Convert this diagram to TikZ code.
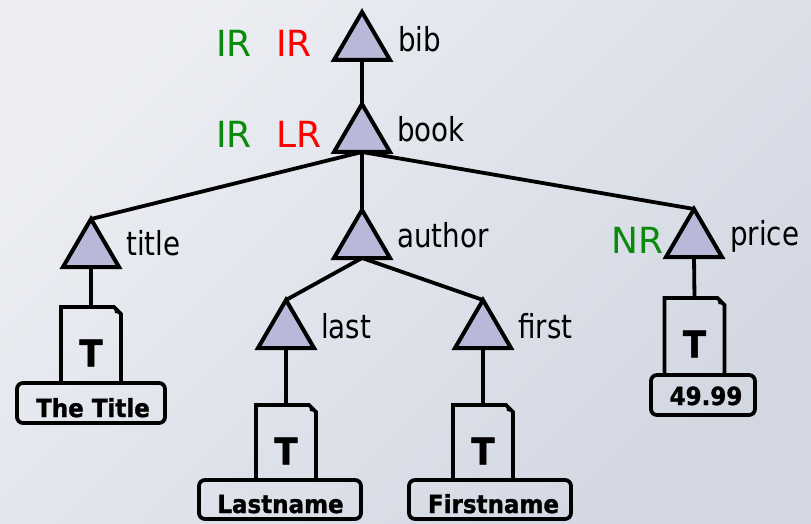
\documentclass[tikz,border=0pt]{standalone}
\usepackage{fontspec}
\setmainfont[FakeStretch=0.84]{DejaVu Sans}
\newfontfamily\boldface[FakeStretch=0.92,BoldFeatures={FakeBold=1.2}]{DejaVu Sans}
\newfontfamily\plainface{DejaVu Sans}
\definecolor{bgA}{HTML}{ECEEF3}
\definecolor{bgB}{HTML}{D2D7E2}
\definecolor{trifill}{HTML}{B8B8D9}
\definecolor{okgreen}{HTML}{0A8A0A}
\definecolor{badred}{HTML}{FF0000}
\begin{document}
\begin{tikzpicture}[x=1pt,y=-1pt,line join=miter,
  trishape/.style={draw=black,fill=trifill,line width=4pt},
  link/.style={draw=black,line width=3.8pt},
  docline/.style={draw=black,line width=3.8pt},
  valbox/.style={draw=black,line width=3.8pt,rounded corners=6pt,inner sep=0pt},
  lbl/.style={anchor=base west,inner sep=0pt,font=\fontsize{33}{36}\selectfont},
  rlbl/.style={anchor=base west,inner sep=0pt,font=\plainface\fontsize{36}{40}\selectfont},
  tletter/.style={anchor=base,inner sep=0pt,font=\boldface\bfseries\fontsize{37}{40}\selectfont},
  valtext/.style={anchor=base,inner sep=0pt,font=\boldface\bfseries\fontsize{25}{28}\selectfont},
  tri/.pic={
    \path[trishape] (-28,0) -- (0,-48) -- (28,0) -- cycle;
    \coordinate (-top) at (0,-48);
    \coordinate (-bot) at (0,0);
  },
  docpage/.pic={
    \path[docline] (-30,#1) -- (-30,0) -- (23,0) -- (30,7) -- (30,#1);
    \fill (23,0) -- (30,7) -- (24,6) -- cycle;
    \coordinate (-top) at (0,0);
    \node[tletter] (-t) at (0,59.5) {T};
  }]
% background
\shade[top color=bgA,bottom color=bgB,shading angle=45] (0,0) rectangle (811,524);
\useasboundingbox (0,0) rectangle (811,524);

% element triangles
\pic (bib) at (362,60) {tri};
\pic (book) at (362,152) {tri};
\pic (title) at (91,267) {tri};
\pic (author) at (362,258) {tri};
\pic (price) at (694,257) {tri};
\pic (last) at (286,348) {tri};
\pic (first) at (483,348) {tri};

% text pages
\pic (tdoc) at (91,307) {docpage=76};
\pic (ldoc) at (286,405) {docpage=75};
\pic (fdoc) at (483,405) {docpage=75};
\pic (pdoc) at (694.5,298) {docpage=77};

% value boxes
\node[valbox,minimum width=148pt,minimum height=40pt] (tbox) at (91,403) {};
\node[valbox,minimum width=162pt,minimum height=39pt] (lbox) at (280,499.5) {};
\node[valbox,minimum width=162pt,minimum height=39pt] (fbox) at (490,499.5) {};
\node[valbox,minimum width=104pt,minimum height=40pt] (pbox) at (703,395) {};
\node[valtext] (tval) at (93,417) {The Title};
\node[valtext] (lval) at (280.5,513) {Lastname};
\node[valtext] (fval) at (493.5,513) {Firstname};
\node[valtext] (pval) at (706,405) {49.99};

% tree connectors
\draw[link] (bib-bot) -- (book-top);
\draw[link] (book-bot) -- (title-top);
\draw[link] (book-bot) -- (author-top);
\draw[link] (book-bot) -- (price-top);
\draw[link] (author-bot) -- (last-top);
\draw[link] (author-bot) -- (first-top);
\draw[link] (title-bot) -- (tdoc-top);
\draw[link] (last-bot) -- (ldoc-top);
\draw[link] (first-bot) -- (fdoc-top);
\draw[link] (price-bot) -- (pdoc-top);

% element names
\node[lbl] (nbib) at (398,52) {bib};
\node[lbl] (nbook) at (397,142) {book};
\node[lbl] (ntitle) at (126,255) {title};
\node[lbl] (nauthor) at (397,247) {author};
\node[lbl] (nlast) at (321,338) {last};
\node[lbl] (nfirst) at (518,338) {first};
\node[lbl] (nprice) at (730,245) {price};

% relevance marks
\node[rlbl,text=okgreen] (g1) at (216,57) {IR};
\node[rlbl,text=badred] (r1) at (276,57) {IR};
\node[rlbl,text=okgreen] (g2) at (216,147) {IR};
\node[rlbl,text=badred] (r2) at (276,147) {LR};
\node[rlbl,text=okgreen] (g3) at (611,253) {NR};
\end{tikzpicture}
\end{document}
